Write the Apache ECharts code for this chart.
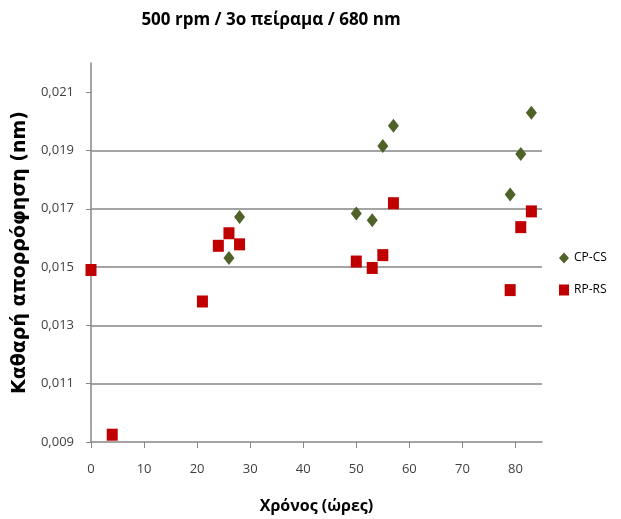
<!DOCTYPE html>
<html>
<head>
<meta charset="utf-8">
<script src="https://cdn.jsdelivr.net/npm/echarts@6/dist/echarts.min.js"></script>
<style>
  html, body { margin: 0; padding: 0; background: #fff; }
  #chart { width: 621px; height: 519px; }
</style>
</head>
<body>
<div id="chart"></div>
<script>
// Δεδομένα: χρόνος (ώρες) και καθαρή απορρόφηση
const cpcsHours = [26, 28, 50, 53, 55, 57, 79, 81, 83];
const cpcsValues = [0.01531, 0.01672, 0.01684, 0.01661, 0.01915, 0.01985, 0.01749, 0.01888, 0.02029];

const rprsHours = [0, 4, 21, 24, 26, 28, 50, 53, 55, 57, 79, 81, 83];
const rprsValues = [0.0149, 0.00925, 0.01382, 0.01573, 0.01616, 0.01578, 0.01519, 0.01497, 0.01541, 0.01719, 0.01421, 0.01637, 0.01691];

const xTicks = [0, 10, 20, 30, 40, 50, 60, 70, 80];
const yTicks = [0.009, 0.011, 0.013, 0.015, 0.017, 0.019, 0.021];

const toPairs = (xs, ys) => xs.map((x, i) => [x, ys[i]]);

const chart = echarts.init(document.getElementById('chart'));
const font = "'Open Sans', 'Noto Sans', sans-serif";
const axisGray = '#868686';

chart.setOption({
    animation: false,
    textStyle: { fontFamily: font },
    title: {
        text: '500 rpm / 3ο πείραμα / 680 nm',
        left: 266,
        textAlign: 'center',
        top: 7,
        textStyle: { fontSize: 17, fontWeight: 'bold', color: '#000', fontFamily: font }
    },
    legend: {
        orient: 'vertical',
        left: 554,
        top: 247,
        itemGap: 20,
        itemWidth: 10,
        itemHeight: 11,
        textStyle: { fontSize: 12, color: '#000', fontFamily: font },
        data: [
            { name: 'CP-CS', icon: 'diamond' },
            { name: 'RP-RS', icon: 'rect' }
        ]
    },
    grid: { left: 91, right: 79, top: 63, bottom: 75, containLabel: false },
    xAxis: {
        type: 'value',
        min: 0,
        max: 85,
        interval: 10,
        name: 'Χρόνος (ώρες)',
        nameLocation: 'middle',
        nameGap: 56,
        nameTextStyle: { fontSize: 16, fontWeight: 'bold', color: '#000', fontFamily: font },
        axisLine: { show: true, lineStyle: { color: axisGray, width: 1.5 } },
        axisTick: { show: true, length: 6, customValues: xTicks, lineStyle: { color: axisGray } },
        axisLabel: { customValues: xTicks, fontSize: 13, color: '#404040', margin: 21 },
        splitLine: { show: false }
    },
    yAxis: {
        type: 'value',
        min: 0.009,
        max: 0.022,
        interval: 0.002,
        name: 'Καθαρή απορρόφηση (nm)',
        nameLocation: 'middle',
        nameRotate: 90,
        nameGap: 55,
        nameTextStyle: { fontSize: 19, fontWeight: 'bold', color: '#000', fontFamily: "'DejaVu Sans', sans-serif" },
        axisLine: { show: true, lineStyle: { color: axisGray, width: 1.5 } },
        axisTick: { show: true, length: 5, customValues: yTicks, lineStyle: { color: axisGray } },
        axisLabel: {
            customValues: yTicks,
            fontSize: 13,
            color: '#404040',
            margin: 17,
            formatter: v => v.toFixed(3).replace('.', ',')
        },
        splitLine: { show: true, showMaxLine: false, showMinLine: false, lineStyle: { color: axisGray, width: 1.5 } }
    },
    series: [
        {
            name: 'CP-CS',
            type: 'scatter',
            symbol: 'diamond',
            symbolSize: [11, 14],
            itemStyle: { color: '#4f6228', opacity: 1 },
            data: toPairs(cpcsHours, cpcsValues)
        },
        {
            name: 'RP-RS',
            type: 'scatter',
            symbol: 'rect',
            symbolSize: [11, 12],
            itemStyle: { color: '#c00000', opacity: 1 },
            data: toPairs(rprsHours, rprsValues)
        }
    ]
});
</script>
</body>
</html>
